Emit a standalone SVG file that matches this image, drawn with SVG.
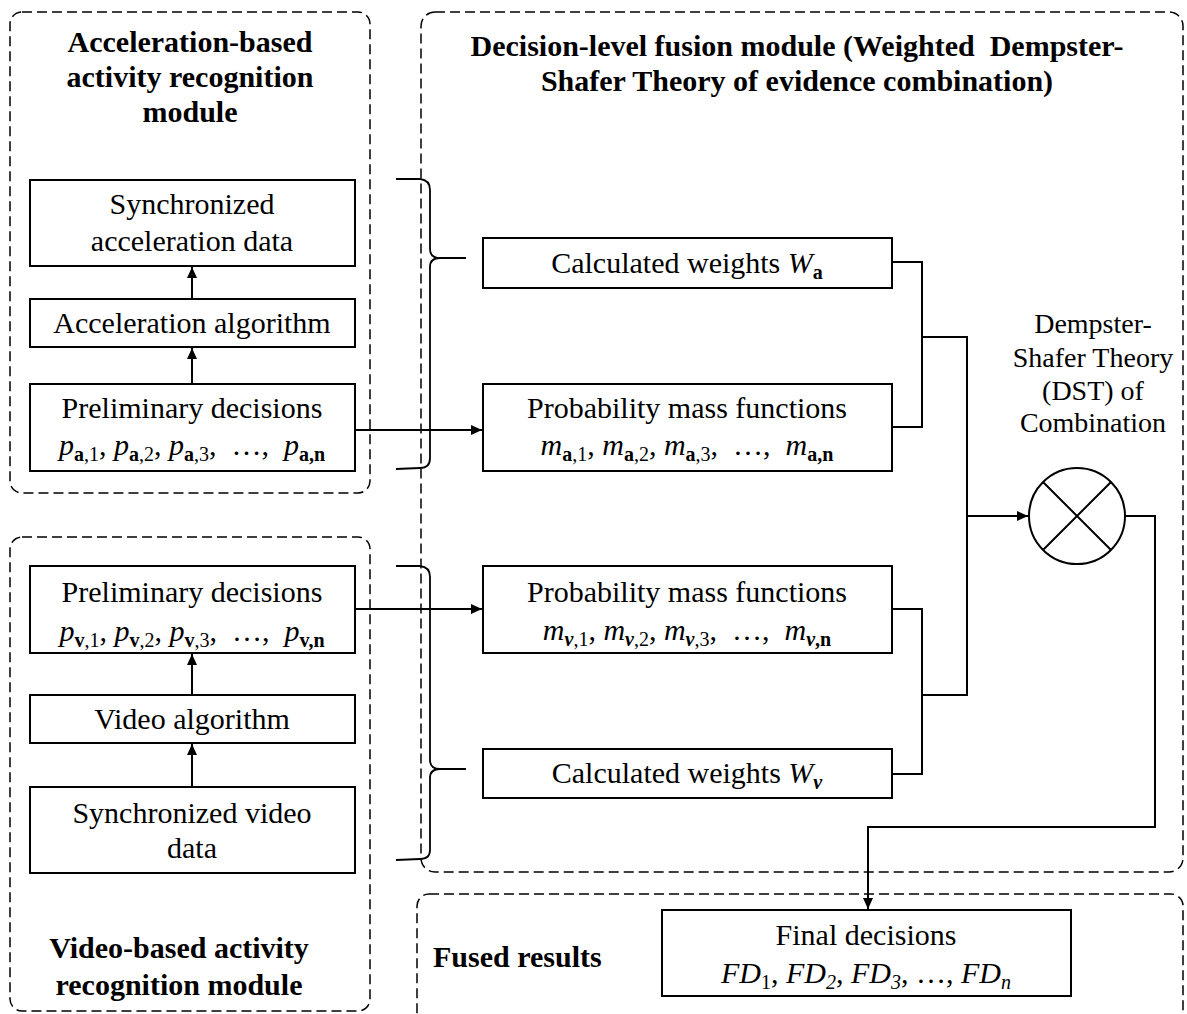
<svg xmlns="http://www.w3.org/2000/svg" width="1187" height="1014" viewBox="0 0 1187 1014">
  <style>
    .grp { fill: none; stroke: #000; stroke-width: 1.5; stroke-dasharray: 10 5; }
    .box { fill: #fff; stroke: #000; stroke-width: 2; }
    .wire { fill: none; stroke: #000; stroke-width: 2; }
    .brace { fill: none; stroke: #000; stroke-width: 1.8; }
    text { font-family: "Liberation Serif", "Times New Roman", "DejaVu Serif", serif; font-size: 30px; fill: #000; }
    .c { text-anchor: middle; }
    .b { font-weight: bold; }
    .i { font-style: italic; }
    .sub { font-size: 20px; }
    .dst { font-size: 28px; }
  </style>
  <defs>
    <marker id="arrow" markerUnits="userSpaceOnUse" markerWidth="12" markerHeight="10" refX="11" refY="5" orient="auto">
      <path d="M0,0 L11,5 L0,10 z" fill="#000"/>
    </marker>
  </defs>

  <rect width="1187" height="1014" fill="#fff"/>

  <!-- module containers -->
  <g id="acc-module">
    <rect class="grp" x="10" y="12" width="360" height="481" rx="12"/>
    <text class="b c" x="190" y="52">Acceleration-based</text>
    <text class="b c" x="190" y="87">activity recognition</text>
    <text class="b c" x="190" y="122">module</text>
  </g>
  <g id="video-module">
    <rect class="grp" x="10" y="537" width="360" height="474" rx="12"/>
    <text class="b c" x="179" y="958">Video-based activity</text>
    <text class="b c" x="179" y="995">recognition module</text>
  </g>
  <g id="fusion-module">
    <rect class="grp" x="421" y="12" width="762" height="860" rx="14"/>
    <text class="b c" x="797" y="56" xml:space="preserve">Decision-level fusion module (Weighted  Dempster-</text>
    <text class="b c" x="797" y="91">Shafer Theory of evidence combination)</text>
  </g>
  <g id="fused-module">
    <rect class="grp" x="417" y="894" width="766" height="140" rx="12"/>
    <text class="b" x="433" y="967">Fused results</text>
  </g>

  <!-- acceleration chain -->
  <g id="acc-data">
    <rect class="box" x="30" y="180" width="325" height="86"/>
    <text class="c" x="192" y="214">Synchronized</text>
    <text class="c" x="192" y="251">acceleration data</text>
  </g>
  <g id="acc-algorithm">
    <rect class="box" x="30" y="299" width="325" height="48"/>
    <text class="c" x="192" y="333">Acceleration algorithm</text>
  </g>
  <g id="acc-decisions">
    <rect class="box" x="30" y="384" width="325" height="87"/>
    <text class="c" x="192" y="418">Preliminary decisions</text>
    <text class="c" x="192" y="455" xml:space="preserve"><tspan class="i">p</tspan><tspan class="sub" dy="6"><tspan class="b">a</tspan>,1</tspan><tspan dy="-6">, </tspan><tspan class="i">p</tspan><tspan class="sub" dy="6"><tspan class="b">a</tspan>,2</tspan><tspan dy="-6">, </tspan><tspan class="i">p</tspan><tspan class="sub" dy="6"><tspan class="b">a</tspan>,3</tspan><tspan dy="-6">,  …,  </tspan><tspan class="i">p</tspan><tspan class="sub b" dy="6">a,n</tspan></text>
  </g>

  <!-- video chain -->
  <g id="video-decisions">
    <rect class="box" x="30" y="566" width="325" height="87"/>
    <text class="c" x="192" y="602">Preliminary decisions</text>
    <text class="c" x="192" y="641" xml:space="preserve"><tspan class="i">p</tspan><tspan class="sub" dy="6"><tspan class="b">v</tspan>,1</tspan><tspan dy="-6">, </tspan><tspan class="i">p</tspan><tspan class="sub" dy="6"><tspan class="b">v</tspan>,2</tspan><tspan dy="-6">, </tspan><tspan class="i">p</tspan><tspan class="sub" dy="6"><tspan class="b">v</tspan>,3</tspan><tspan dy="-6">,  …,  </tspan><tspan class="i">p</tspan><tspan class="sub b" dy="6">v,n</tspan></text>
  </g>
  <g id="video-algorithm">
    <rect class="box" x="30" y="695" width="325" height="48"/>
    <text class="c" x="192" y="729">Video algorithm</text>
  </g>
  <g id="video-data">
    <rect class="box" x="30" y="787" width="325" height="86"/>
    <text class="c" x="192" y="823">Synchronized video</text>
    <text class="c" x="192" y="858">data</text>
  </g>

  <!-- fusion inputs -->
  <g id="weights-a">
    <rect class="box" x="483" y="238" width="409" height="50"/>
    <text class="c" x="687" y="273">Calculated weights <tspan class="i">W</tspan><tspan class="sub b" dy="6">a</tspan></text>
  </g>
  <g id="pmf-a">
    <rect class="box" x="483" y="384" width="409" height="87"/>
    <text class="c" x="687" y="418">Probability mass functions</text>
    <text class="c" x="687" y="455" xml:space="preserve"><tspan class="i">m</tspan><tspan class="sub" dy="6"><tspan class="b">a</tspan>,1</tspan><tspan dy="-6">, </tspan><tspan class="i">m</tspan><tspan class="sub" dy="6"><tspan class="b">a</tspan>,2</tspan><tspan dy="-6">, </tspan><tspan class="i">m</tspan><tspan class="sub" dy="6"><tspan class="b">a</tspan>,3</tspan><tspan dy="-6">,  …,  </tspan><tspan class="i">m</tspan><tspan class="sub b" dy="6">a,n</tspan></text>
  </g>
  <g id="pmf-v">
    <rect class="box" x="483" y="566" width="409" height="87"/>
    <text class="c" x="687" y="602">Probability mass functions</text>
    <text class="c" x="687" y="640" xml:space="preserve"><tspan class="i">m</tspan><tspan class="sub" dy="6"><tspan class="b i">v</tspan>,1</tspan><tspan dy="-6">, </tspan><tspan class="i">m</tspan><tspan class="sub" dy="6"><tspan class="b i">v</tspan>,2</tspan><tspan dy="-6">, </tspan><tspan class="i">m</tspan><tspan class="sub" dy="6"><tspan class="b i">v</tspan>,3</tspan><tspan dy="-6">,  …,  </tspan><tspan class="i">m</tspan><tspan class="sub" dy="6"><tspan class="b i">v</tspan><tspan class="b">,n</tspan></tspan></text>
  </g>
  <g id="weights-v">
    <rect class="box" x="483" y="749" width="409" height="49"/>
    <text class="c" x="687" y="783">Calculated weights <tspan class="i">W</tspan><tspan class="sub b i" dy="6">v</tspan></text>
  </g>

  <!-- combination operator -->
  <g id="dst-combination">
    <text class="c dst" x="1093" y="333">Dempster-</text>
    <text class="c dst" x="1093" y="367">Shafer Theory</text>
    <text class="c dst" x="1093" y="400">(DST) of</text>
    <text class="c dst" x="1093" y="432">Combination</text>
    <circle cx="1077" cy="516" r="48" fill="#fff" stroke="#000" stroke-width="2"/>
    <path class="wire" d="M1043,482 L1111,550 M1111,482 L1043,550"/>
  </g>

  <!-- final output -->
  <g id="final-decisions">
    <rect class="box" x="662" y="910" width="409" height="86"/>
    <text class="c" x="866" y="945">Final decisions</text>
    <text class="c" x="866" y="983"><tspan class="i">FD</tspan><tspan class="sub" dy="6">1</tspan><tspan dy="-6">, </tspan><tspan class="i">FD</tspan><tspan class="sub i" dy="6">2</tspan><tspan dy="-6">, </tspan><tspan class="i">FD</tspan><tspan class="sub i" dy="6">3</tspan><tspan dy="-6">, …, </tspan><tspan class="i">FD</tspan><tspan class="sub i" dy="6">n</tspan></text>
  </g>

  <!-- connectors -->
  <g id="connectors">
    <line class="wire" x1="192" y1="299" x2="192" y2="267" marker-end="url(#arrow)"/>
    <line class="wire" x1="192" y1="384" x2="192" y2="348" marker-end="url(#arrow)"/>
    <line class="wire" x1="192" y1="695" x2="192" y2="654" marker-end="url(#arrow)"/>
    <line class="wire" x1="192" y1="787" x2="192" y2="744" marker-end="url(#arrow)"/>
    <line class="wire" x1="355" y1="430" x2="482" y2="430" marker-end="url(#arrow)"/>
    <line class="wire" x1="355" y1="609" x2="482" y2="609" marker-end="url(#arrow)"/>

    <path class="wire" d="M892,262 H922 V427 H892"/>
    <path class="wire" d="M922,337 H967 V695 H922"/>
    <path class="wire" d="M892,609 H922 V774 H892"/>
    <line class="wire" x1="967" y1="516" x2="1028" y2="516" marker-end="url(#arrow)"/>
    <path class="wire" d="M1125,516 H1155 V827 H868 V909" marker-end="url(#arrow)"/>

    <!-- grouping braces -->
    <path class="brace" d="M396,179 L420,179 Q430,180 430,190 L430,249 Q430,258 440,258 L466,258 M440,258 Q430,258 430,267 L430,458 Q430,468 420,468 L396,469"/>
    <path class="brace" d="M396,566 L420,566 Q430,567 430,577 L430,760 Q430,769 440,769 L466,769 M440,769 Q430,769 430,778 L430,850 Q430,859 420,859 L396,860"/>
  </g>
</svg>
